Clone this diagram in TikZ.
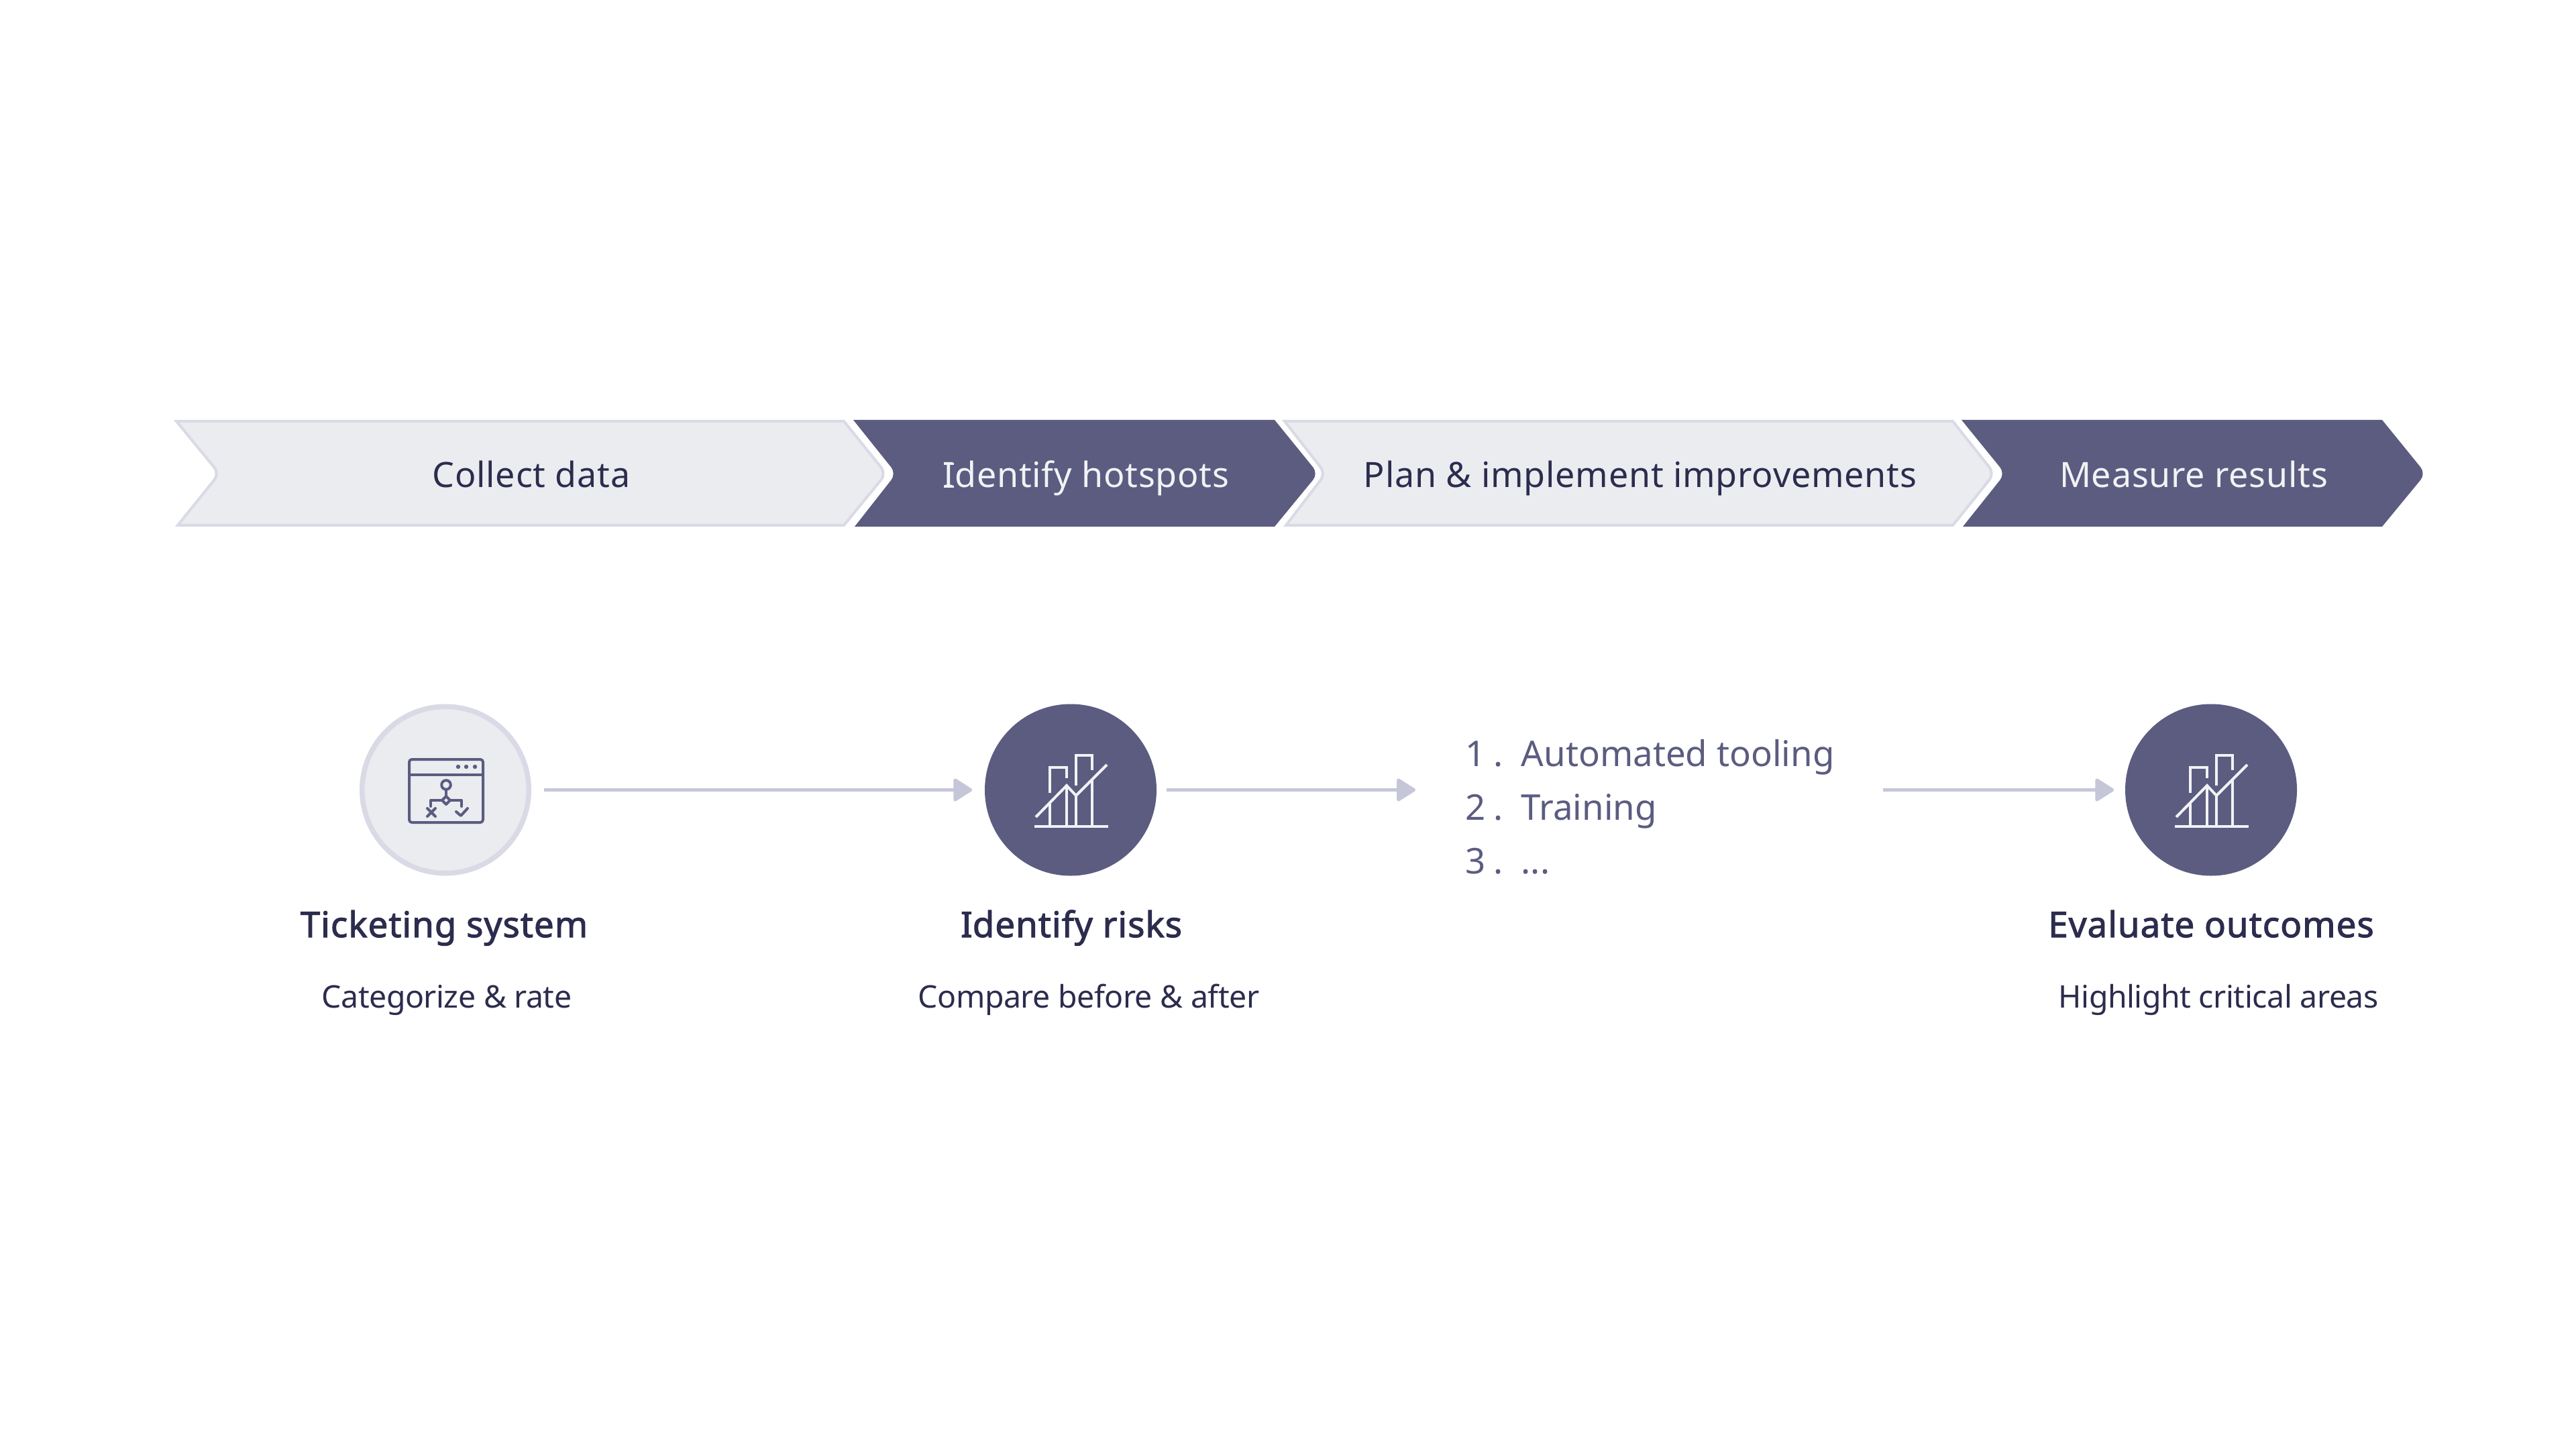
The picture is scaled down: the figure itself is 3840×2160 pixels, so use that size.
\documentclass[tikz,border=0pt]{standalone}
\usepackage{fontspec}
\setmainfont{Noto Sans}
\usetikzlibrary{arrows.meta}
\definecolor{navy}{HTML}{5B5C80}
\definecolor{palefill}{HTML}{EBECF0}
\definecolor{palestroke}{HTML}{D9DAE5}
\definecolor{inktext}{HTML}{2C2C4E}
\definecolor{arrowgrey}{HTML}{C5C7D9}
\definecolor{softwhite}{HTML}{F2F2F6}
\newfontfamily\heavyface{Noto Sans}[FakeBold=2,LetterSpace=2]
\newfontfamily\barface{Noto Sans}[LetterSpace=1.5]
\newfontfamily\listface{Noto Sans}[LetterSpace=0]
\newfontfamily\subface{Noto Sans}[LetterSpace=-1]
\newcommand{\slabI}{\hbox{\rlap{\hspace{.03em}\rule{.28em}{.065em}}\rlap{\hspace{.03em}\rule[.649em]{.28em}{.065em}}I}}
\newcommand{\chartglyph}[2]{%
  \begin{scope}[shift={(#1,#2)},glyphline]
    \draw (-54,55) -- (56,55);
    \draw (-31,55) -- (-31,21);
    \draw (-6,55) -- (-6,-6);
    \draw (8,55) -- (8,9);
    \draw (32,55) -- (32,-14);
    \draw (-31,5) -- (-31,-33) -- (-6,-33) -- (-6,-17);
    \draw (8,-6) -- (8,-51) -- (32,-51) -- (32,-29);
    \draw (-52,41) -- (-6,-6) -- (8,9) -- (54,-37);
  \end{scope}}
\tikzset{
  x=.25pt,y=-.25pt,
  barlabel/.style={anchor=base,inner sep=0pt,font=\fontsize{13}{13}\selectfont\barface},
  headlabel/.style={anchor=base,inner sep=0pt,text=inktext,font=\fontsize{13.2}{13.2}\selectfont\heavyface},
  sublabel/.style={anchor=base,inner sep=0pt,text=inktext,font=\fontsize{11.6}{11.6}\selectfont\subface},
  palechev/.style={fill=palefill,draw=palestroke,line width=1pt,line join=miter},
  navychev/.style={fill=navy},
  palering/.style={circle,fill=palefill,draw=palestroke,line width=1.9pt,minimum size=62.1pt,inner sep=0pt},
  navyring/.style={circle,fill=navy,minimum size=64pt,inner sep=0pt},
  flowline/.style={draw=arrowgrey,line width=1.2pt,-{Triangle[length=7.5pt,width=9.2pt,round]}},
  iconline/.style={draw=navy,line width=1pt,line join=round,line cap=round},
  glyphline/.style={draw=softwhite,line width=1pt},
}
\begin{document}
\begin{tikzpicture}
\useasboundingbox (0,0) rectangle (3840,2160);
\fill[white] (0,0) rectangle (3840,2160);
% chevrons
\path[palechev] (263,628) -- (1258,628) [rounded corners=3pt] -- (1321,706) [sharp corners] -- (1258,783) -- (265,783) [rounded corners=3pt] -- (327,706) [sharp corners] -- cycle;
\path[navychev] (1272,626) -- (1900,626) [rounded corners=3pt] -- (1965,706) [sharp corners] -- (1900,785) -- (1274,785) [rounded corners=3pt] -- (1336,706) [sharp corners] -- cycle;
\path[palechev] (1915,628) -- (2911,628) [rounded corners=3pt] -- (2973,706) [sharp corners] -- (2911,783) -- (1917,783) [rounded corners=3pt] -- (1976,706) [sharp corners] -- cycle;
\path[navychev] (2924,626) -- (3551,626) [rounded corners=3pt] -- (3616,706) [sharp corners] -- (3551,785) -- (2926,785) [rounded corners=3pt] -- (2989,706) [sharp corners] -- cycle;
\node[barlabel,text=inktext] (lblcollect) at (792,727) {Collect data};
\node[barlabel,text=softwhite] (lblhot) at (1619,727) {\slabI dentify hotspots};
\node[barlabel,text=inktext] (lblplan) at (2445,727) {Plan \& implement improvements};
\node[barlabel,text=softwhite] (lblmeasure) at (3270,727) {Measure results};
% circles
\node[palering] (ringa) at (664,1177.5) {};
\node[navyring] (ringb) at (1596,1177.5) {};
\node[navyring] (ringc) at (3296,1177.5) {};
% window icon
\begin{scope}[iconline]
  \draw[rounded corners=1pt] (610,1132) rectangle (720,1226);
  \draw (610,1155) -- (720,1155);
  \fill[navy,draw=none] (683,1143) circle (.8pt) (695,1143) circle (.8pt) (708,1143) circle (.8pt);
  \draw (665,1170) circle (1.7pt);
  \draw (665,1177) -- (665,1187);
  \draw (665,1187) -- (671,1193) -- (665,1199) -- (659,1193) -- cycle;
  \draw (642,1202) -- (642,1193) -- (659,1193);
  \draw (671,1193) -- (688,1193) -- (688,1202);
  \draw (637,1205) -- (649,1217);
  \draw (649,1205) -- (637,1217);
  \draw (680,1210) -- (687,1216) -- (697,1205);
\end{scope}
\chartglyph{1596}{1177}
\chartglyph{3296}{1177}
% list
\node[anchor=north west,inner sep=0pt,text=navy,font=\fontsize{13.2}{20}\selectfont\listface,align=left] (steps) at (2184,1102) {%
  1\hspace{2.75pt}.\hspace{6.9pt}Automated tooling\\
  2\hspace{2.75pt}.\hspace{6.9pt}Training\\
  3\hspace{2.75pt}.\hspace{6.9pt}...};
% connectors
\draw[flowline,shorten <=4.75pt,shorten >=4.5pt] (ringa.east) -- (ringb.west);
\draw[flowline,shorten <=3.5pt,shorten >=18.5pt] (ringb.east) -- (steps.west |- ringb.center);
\draw[flowline,shorten <=18pt,shorten >=4pt] (steps.east |- ringc.center) -- (ringc.west);
% labels
\node[headlabel] (heada) at (662,1397) {Ticketing system};
\node[headlabel] (headb) at (1597,1397) {\slabI dentify risks};
\node[headlabel] (headc) at (3296,1397) {Evaluate outcomes};
\node[sublabel] (suba) at (666,1502) {Categorize \& rate};
\node[sublabel] (subb) at (1623,1502) {Compare before \& after};
\node[sublabel] (subc) at (3307,1502) {Highlight critical areas};
\end{tikzpicture}
\end{document}
